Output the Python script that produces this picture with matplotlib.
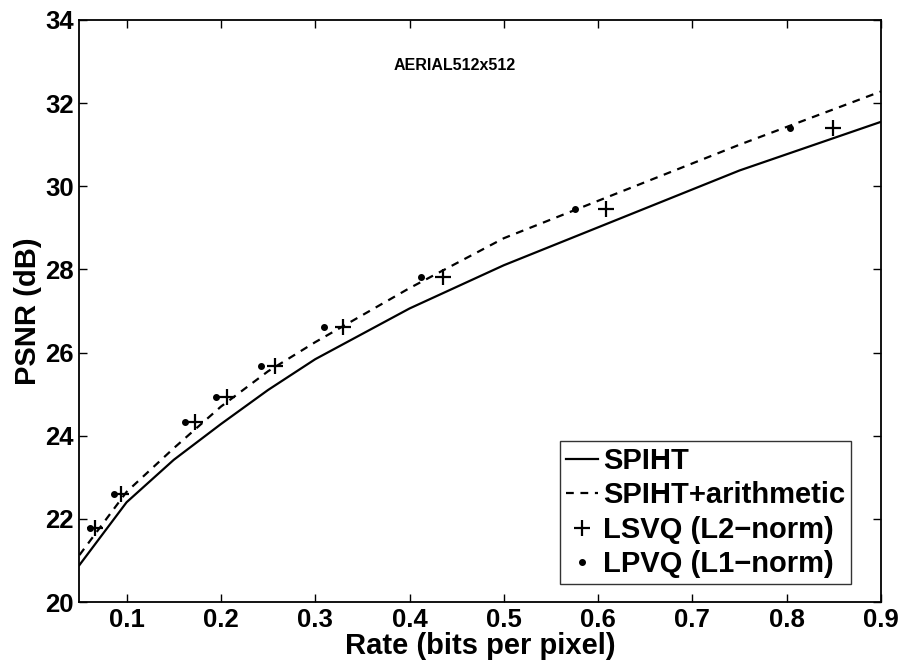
import numpy as np
import matplotlib
matplotlib.use('Agg')
import matplotlib.pyplot as plt

# SPIHT (plain)
spiht_rate = [0.05, 0.1, 0.15, 0.2, 0.25, 0.3, 0.4, 0.5, 0.75, 0.9]
spiht_psnr = [20.89, 22.40, 23.42, 24.28, 25.10, 25.84, 27.06, 28.10, 30.38, 31.55]

# SPIHT with arithmetic coding
spiht_ac_rate = [0.05, 0.1, 0.15, 0.2, 0.25, 0.3, 0.4, 0.5, 0.75, 0.9]
spiht_ac_psnr = [21.13, 22.65, 23.70, 24.70, 25.55, 26.25, 27.55, 28.75, 31.00, 32.28]

# LSVQ (L2-norm)
lsvq_rate = [0.0665, 0.094, 0.172, 0.206, 0.257, 0.329, 0.435, 0.608, 0.849]
lsvq_psnr = [21.79, 22.59, 24.32, 24.94, 25.67, 26.62, 27.82, 29.45, 31.41]

# LPVQ (L1-norm)
lpvq_rate = [0.061, 0.087, 0.162, 0.195, 0.242, 0.309, 0.412, 0.576, 0.803]
lpvq_psnr = [21.79, 22.59, 24.32, 24.94, 25.67, 26.62, 27.82, 29.45, 31.41]

plt.rcParams['font.family'] = ['Liberation Sans', 'DejaVu Sans']
plt.rcParams['font.weight'] = 'bold'

fig = plt.figure(figsize=(9.06, 6.65), dpi=100)
ax = fig.add_axes([0.0877, 0.0947, 0.8847, 0.8753])

ax.plot(spiht_rate, spiht_psnr, '-', color='black', lw=1.6, label='SPIHT')
ax.plot(spiht_ac_rate, spiht_ac_psnr, color='black', lw=1.6, linestyle=(0, (3.5, 3)),
        label='SPIHT+arithmetic')
ax.plot(lsvq_rate, lsvq_psnr, '+', color='black', ms=12, mew=1.6, label='LSVQ (L2\u2212norm)')
ax.plot(lpvq_rate, lpvq_psnr, '.', color='black', ms=8, label='LPVQ (L1\u2212norm)')

ax.set_xlim(0.05, 0.9)
ax.set_ylim(20, 34)
ax.set_xticks(np.arange(0.1, 0.91, 0.1))
ax.set_xticklabels(['0.1', '0.2', '0.3', '0.4', '0.5', '0.6', '0.7', '0.8', '0.9'])
ax.set_yticks(np.arange(20, 35, 2))
ax.tick_params(direction='in', top=True, right=True, length=6, width=1,
               labelsize=18.5, pad=4)
for lab in ax.get_xticklabels() + ax.get_yticklabels():
    lab.set_fontweight('bold')
for sp in ax.spines.values():
    sp.set_linewidth(1.3)

ax.set_xlabel('Rate (bits per pixel)', fontsize=21, fontweight='bold', labelpad=0)
ax.set_ylabel('PSNR (dB)', fontsize=21, fontweight='bold', labelpad=2)

ax.text(0.448, 32.9, 'AERIAL512x512', ha='center', va='center', fontsize=11.5,
        fontweight='bold')

leg = ax.legend(loc='lower right', bbox_to_anchor=(0.9626, 0.031), borderaxespad=0,
                prop={'weight': 'bold', 'size': 21}, frameon=True,
                fancybox=False, edgecolor='black', handlelength=1.1,
                handletextpad=0.17, labelspacing=0.22, borderpad=0.2)
leg.get_frame().set_linewidth(1.0)

fig.savefig('out.png', dpi=100)
